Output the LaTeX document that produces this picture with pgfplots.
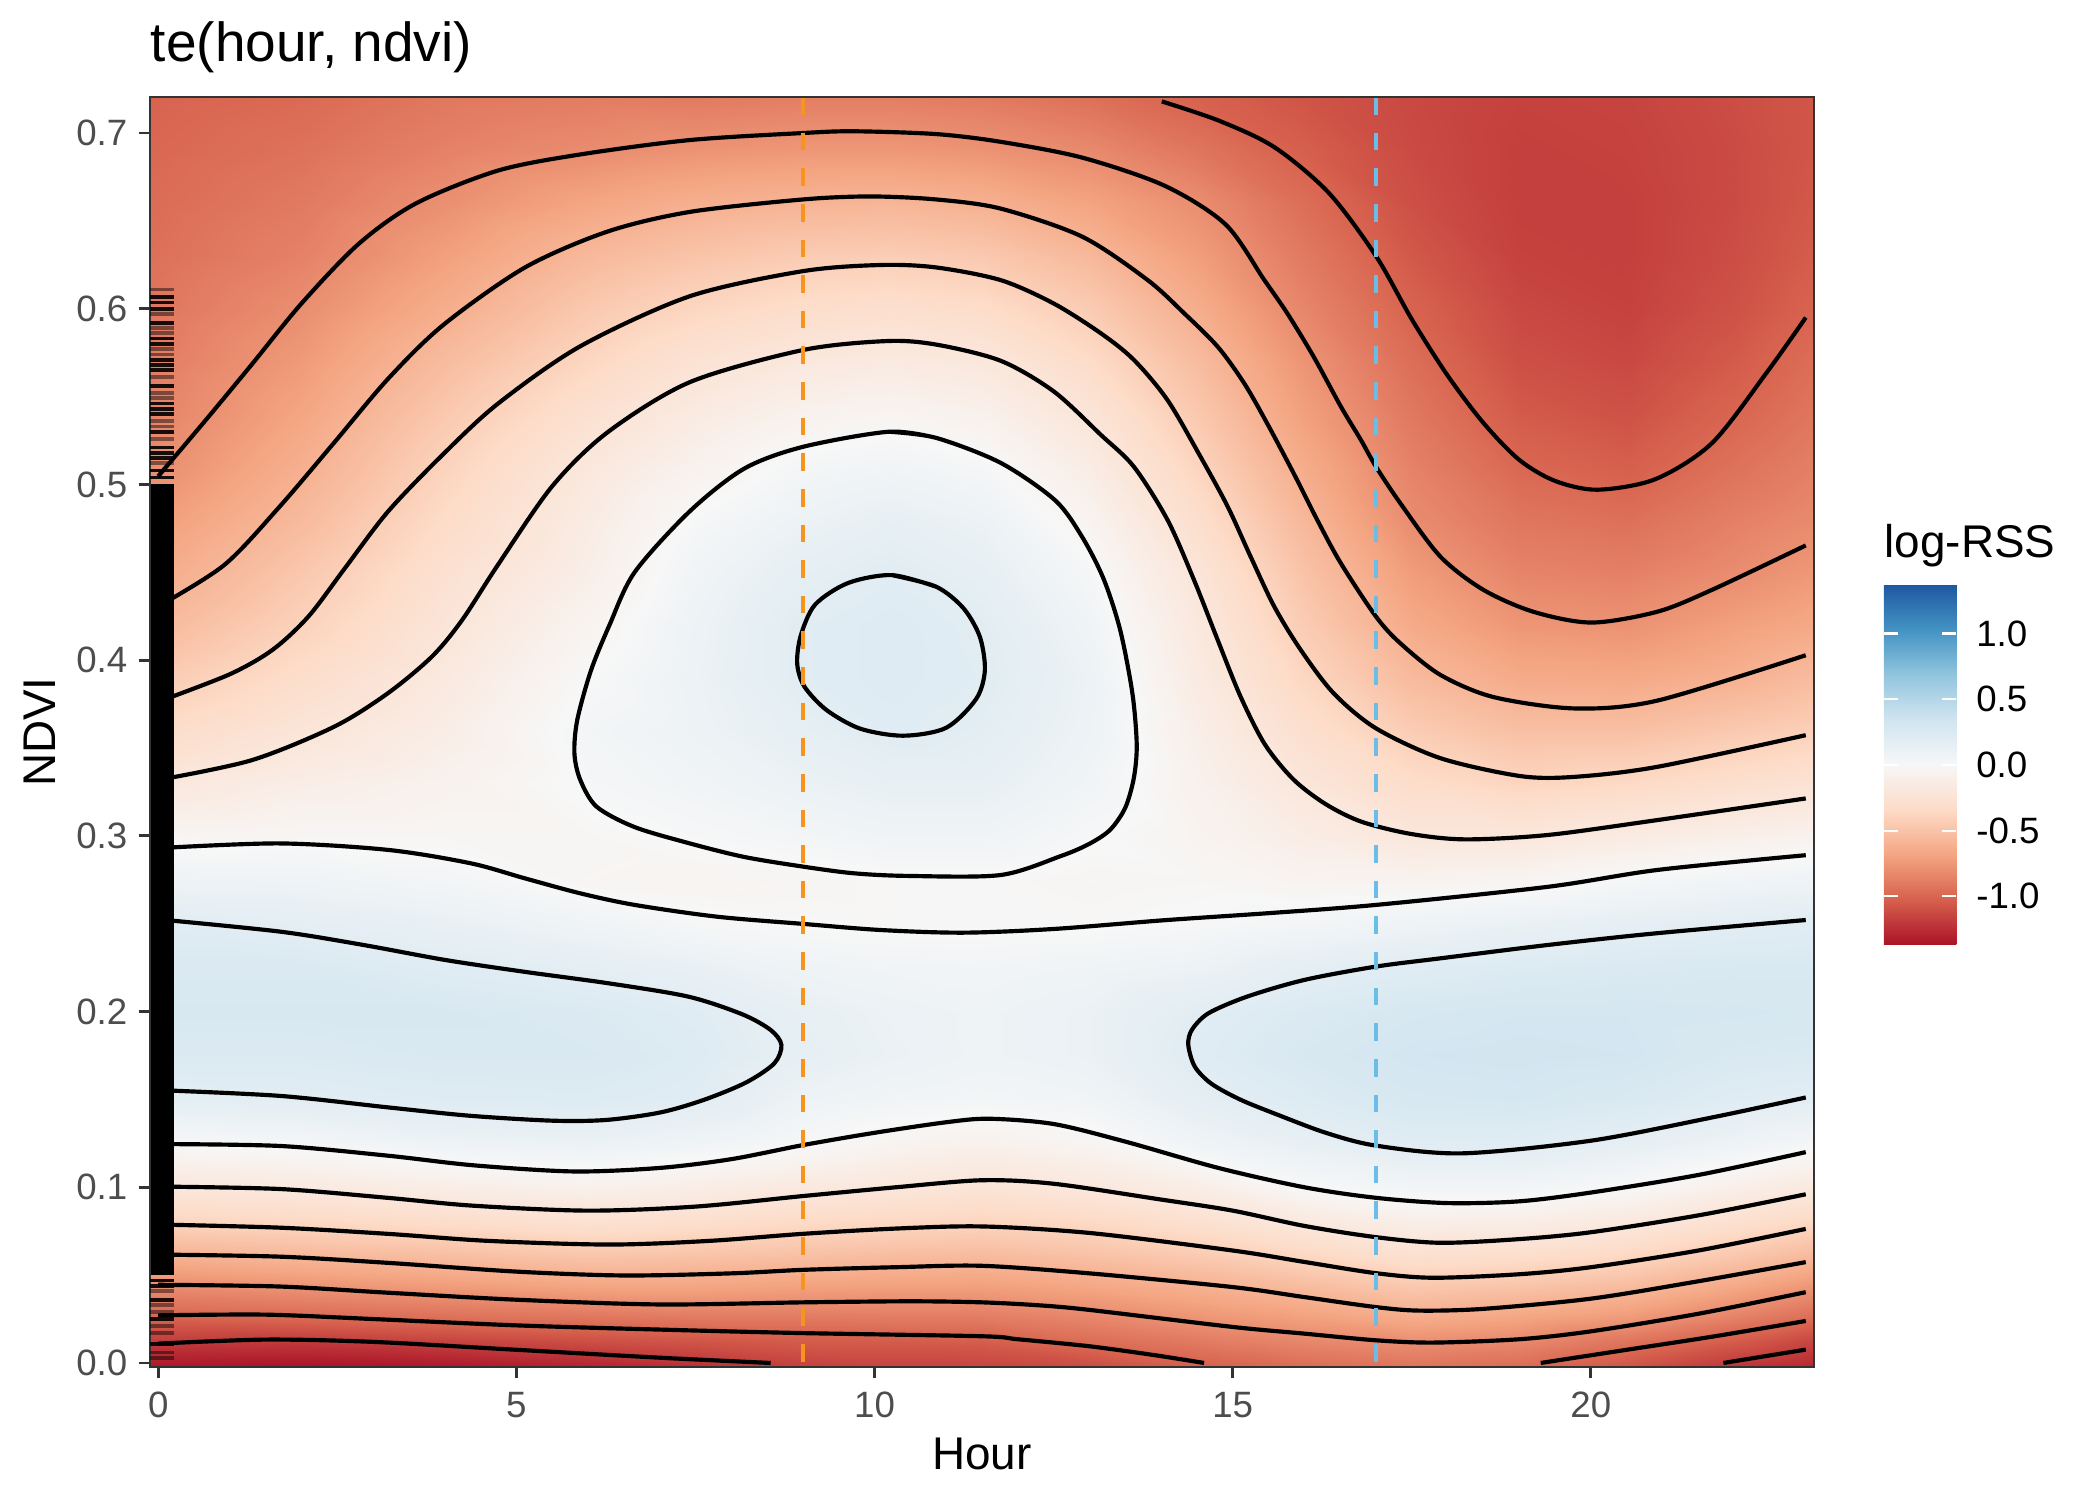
\documentclass[border=0pt]{standalone}
\usepackage{pgfplots}
\pgfplotsset{compat=1.18}
\usepackage{fontspec}
\setmainfont{Liberation Sans}
\definecolor{grey20}{HTML}{333333}
\definecolor{grey30}{HTML}{4D4D4D}
\definecolor{vorange}{RGB}{247,148,30}
\definecolor{vblue}{RGB}{105,189,230}
\pgfplotsset{
  colormap={rdbu}{rgb255(0cm)=(170,18,40); rgb255(1cm)=(214,96,77); rgb255(2cm)=(244,165,130); rgb255(3cm)=(253,219,199); rgb255(4cm)=(247,247,247); rgb255(5cm)=(209,229,240); rgb255(6cm)=(146,197,222); rgb255(7cm)=(67,147,195); rgb255(8cm)=(31,88,162)},
  cl/.style={black, line width=1.0pt, smooth},
}
\newcommand\tickfont{\fontsize{8.8}{10}\selectfont}
\begin{document}
\begin{tikzpicture}
\path[use as bounding box] (-36pt,-31.92pt) rectangle (468pt,328.08pt);
\begin{axis}[
  at={(0,0)}, anchor=south west,
  scale only axis, width=399.36pt, height=304.8pt,
  xmin=-0.115, xmax=23.115, ymin=-0.0023, ymax=0.7205,
  axis on top,
  colormap name=rdbu,
  point meta min=-1.37, point meta max=1.37,
  xtick={0,5,10,15,20}, xticklabels={0,5,10,15,20},
  ytick={0,0.1,0.2,0.3,0.4,0.5,0.6,0.7}, yticklabels={0.0,0.1,0.2,0.3,0.4,0.5,0.6,0.7},
  tick align=outside, tick pos=left,
  major tick length=2.75pt,
  every tick/.style={grey20, line width=0.7pt},
  axis line style={grey20, line width=0.5pt},
  every tick label/.style={font=\tickfont, text=grey30, inner sep=0pt},
  every y tick label/.style={xshift=-2.5pt},
  every x tick label/.style={yshift=-3pt},
  title={te(hour, ndvi)},
  every axis title/.style={at={(0,1)}, anchor=base west, yshift=8.5pt, font=\fontsize{13.2}{16}\selectfont, inner sep=0pt},
  xlabel={Hour}, ylabel={NDVI},
  every axis x label/.style={at={(axis description cs:0.5,0)}, anchor=base, yshift=-24.5pt, font=\fontsize{11}{13}\selectfont, inner sep=0pt},
  every axis y label/.style={at={([xshift=-22.6pt]axis description cs:0,0.5)}, rotate=90, anchor=base, font=\fontsize{11}{13}\selectfont, inner sep=0pt},
  colorbar,
  colorbar shift/.style={xshift=16.75pt, yshift=101.3pt},
  colorbar/width=17.4pt,
  every colorbar/.append style={ytick pos=both, yticklabel pos=right, width=17.4pt},
  colorbar style={
    at={(parent axis.south east)}, anchor=south west,
    scale only axis, width=17.4pt, height=86.4pt,
    xlabel={}, ylabel={},
    ytick={-1,-0.5,0,0.5,1}, yticklabels={-1.0,-0.5,0.0,0.5,1.0},
    yticklabel pos=right, ytick pos=both,
    tick align=inside, major tick length=3.4pt,
    every tick/.style={draw=white, line width=0.5pt},
    axis line style={draw=none},
    every tick label/.style={font=\tickfont, text=black, inner sep=0pt},
    every y tick label/.style={anchor=west, xshift=4.6pt},
    title={log-RSS},
    every axis title/.style={at={(0,1)}, anchor=base west, yshift=6.5pt, font=\fontsize{11}{13}\selectfont, inner sep=0pt},
  },
]
% ---------------- heat field (log-RSS) ----------------
\addplot[surf, shader=interp, mesh/cols=16, point meta=explicit]
table[row sep=\\, x=x, y=y, meta=z] {
x y z\\
-0.115 -0.0023 -1.35\\ 2 -0.0023 -1.37\\ 4 -0.0023 -1.35\\ 6 -0.0023 -1.30\\ 7.5 -0.0023 -1.24\\ 9 -0.0023 -1.17\\ 10.25 -0.0023 -1.15\\ 11.5 -0.0023 -1.15\\ 13 -0.0023 -1.12\\ 14.5 -0.0023 -1.03\\ 16 -0.0023 -0.97\\ 17.5 -0.0023 -0.93\\ 19 -0.0023 -0.97\\ 20.5 -0.0023 -1.08\\ 22 -0.0023 -1.21\\ 23.115 -0.0023 -1.28\\
-0.115 0.012 -1.19\\ 2 0.012 -1.20\\ 4 0.012 -1.16\\ 6 0.012 -1.11\\ 7.5 0.012 -1.08\\ 9 0.012 -1.05\\ 10.25 0.012 -1.05\\ 11.5 0.012 -1.04\\ 13 0.012 -0.97\\ 14.5 0.012 -0.90\\ 16 0.012 -0.84\\ 17.5 0.012 -0.80\\ 19 0.012 -0.83\\ 20.5 0.012 -0.93\\ 22 0.012 -1.05\\ 23.115 0.012 -1.15\\
-0.115 0.027 -1.00\\ 2 0.027 -0.97\\ 4 0.027 -0.94\\ 6 0.027 -0.91\\ 7.5 0.027 -0.89\\ 9 0.027 -0.89\\ 10.25 0.027 -0.88\\ 11.5 0.027 -0.88\\ 13 0.027 -0.83\\ 14.5 0.027 -0.76\\ 16 0.027 -0.70\\ 17.5 0.027 -0.63\\ 19 0.027 -0.67\\ 20.5 0.027 -0.73\\ 22 0.027 -0.85\\ 23.115 0.027 -0.96\\
-0.115 0.044 -0.81\\ 2 0.044 -0.77\\ 4 0.044 -0.73\\ 6 0.044 -0.68\\ 7.5 0.044 -0.68\\ 9 0.044 -0.70\\ 10.25 0.044 -0.71\\ 11.5 0.044 -0.71\\ 13 0.044 -0.67\\ 14.5 0.044 -0.61\\ 16 0.044 -0.54\\ 17.5 0.044 -0.46\\ 19 0.044 -0.49\\ 20.5 0.044 -0.54\\ 22 0.044 -0.66\\ 23.115 0.044 -0.76\\
-0.115 0.061 -0.61\\ 2 0.061 -0.57\\ 4 0.061 -0.53\\ 6 0.061 -0.48\\ 7.5 0.061 -0.50\\ 9 0.061 -0.52\\ 10.25 0.061 -0.54\\ 11.5 0.061 -0.55\\ 13 0.061 -0.51\\ 14.5 0.061 -0.45\\ 16 0.061 -0.37\\ 17.5 0.061 -0.28\\ 19 0.061 -0.31\\ 20.5 0.061 -0.36\\ 22 0.061 -0.47\\ 23.115 0.061 -0.56\\
-0.115 0.079 -0.40\\ 2 0.079 -0.37\\ 4 0.079 -0.33\\ 6 0.079 -0.28\\ 7.5 0.079 -0.31\\ 9 0.079 -0.35\\ 10.25 0.079 -0.37\\ 11.5 0.079 -0.39\\ 13 0.079 -0.36\\ 14.5 0.079 -0.29\\ 16 0.079 -0.19\\ 17.5 0.079 -0.12\\ 19 0.079 -0.13\\ 20.5 0.079 -0.19\\ 22 0.079 -0.29\\ 23.115 0.079 -0.37\\
-0.115 0.100 -0.20\\ 2 0.100 -0.17\\ 4 0.100 -0.12\\ 6 0.100 -0.08\\ 7.5 0.100 -0.12\\ 9 0.100 -0.17\\ 10.25 0.100 -0.20\\ 11.5 0.100 -0.23\\ 13 0.100 -0.19\\ 14.5 0.100 -0.12\\ 16 0.100 0.00\\ 17.5 0.100 0.05\\ 19 0.100 0.05\\ 20.5 0.100 0.00\\ 22 0.100 -0.10\\ 23.115 0.100 -0.17\\
-0.115 0.125 0.00\\ 2 0.125 0.03\\ 4 0.125 0.09\\ 6 0.125 0.11\\ 7.5 0.125 0.07\\ 9 0.125 0.01\\ 10.25 0.125 -0.05\\ 11.5 0.125 -0.08\\ 13 0.125 -0.04\\ 14.5 0.125 0.07\\ 16 0.125 0.14\\ 17.5 0.125 0.21\\ 19 0.125 0.21\\ 20.5 0.125 0.16\\ 22 0.125 0.09\\ 23.115 0.125 0.03\\
-0.115 0.150 0.17\\ 2 0.150 0.19\\ 4 0.150 0.22\\ 6 0.150 0.23\\ 7.5 0.150 0.20\\ 9 0.150 0.09\\ 10.25 0.150 0.06\\ 11.5 0.150 0.04\\ 13 0.150 0.06\\ 14.5 0.150 0.17\\ 16 0.150 0.23\\ 17.5 0.150 0.29\\ 19 0.150 0.30\\ 20.5 0.150 0.27\\ 22 0.150 0.21\\ 23.115 0.150 0.19\\
-0.115 0.175 0.25\\ 2 0.175 0.25\\ 4 0.175 0.27\\ 6 0.175 0.27\\ 7.5 0.175 0.23\\ 9 0.175 0.15\\ 10.25 0.175 0.11\\ 11.5 0.175 0.08\\ 13 0.175 0.11\\ 14.5 0.175 0.21\\ 16 0.175 0.28\\ 17.5 0.175 0.32\\ 19 0.175 0.33\\ 20.5 0.175 0.32\\ 22 0.175 0.27\\ 23.115 0.175 0.26\\
-0.115 0.200 0.28\\ 2 0.200 0.28\\ 4 0.200 0.28\\ 6 0.200 0.25\\ 7.5 0.200 0.21\\ 9 0.200 0.14\\ 10.25 0.200 0.10\\ 11.5 0.200 0.08\\ 13 0.200 0.11\\ 14.5 0.200 0.19\\ 16 0.200 0.25\\ 17.5 0.200 0.29\\ 19 0.200 0.31\\ 20.5 0.200 0.31\\ 22 0.200 0.30\\ 23.115 0.200 0.29\\
-0.115 0.225 0.26\\ 2 0.225 0.26\\ 4 0.225 0.21\\ 6 0.225 0.17\\ 7.5 0.225 0.13\\ 9 0.225 0.08\\ 10.25 0.225 0.06\\ 11.5 0.225 0.05\\ 13 0.225 0.07\\ 14.5 0.225 0.10\\ 16 0.225 0.17\\ 17.5 0.225 0.21\\ 19 0.225 0.24\\ 20.5 0.225 0.26\\ 22 0.225 0.27\\ 23.115 0.225 0.27\\
-0.115 0.250 0.21\\ 2 0.250 0.17\\ 4 0.250 0.13\\ 6 0.250 0.07\\ 7.5 0.250 0.02\\ 9 0.250 0.00\\ 10.25 0.250 -0.01\\ 11.5 0.250 -0.01\\ 13 0.250 -0.01\\ 14.5 0.250 0.01\\ 16 0.250 0.04\\ 17.5 0.250 0.08\\ 19 0.250 0.12\\ 20.5 0.250 0.16\\ 22 0.250 0.19\\ 23.115 0.250 0.21\\
-0.115 0.275 0.09\\ 2 0.275 0.08\\ 4 0.275 0.04\\ 6 0.275 -0.03\\ 7.5 0.275 -0.04\\ 9 0.275 -0.03\\ 10.25 0.275 -0.01\\ 11.5 0.275 -0.01\\ 13 0.275 -0.03\\ 14.5 0.275 -0.02\\ 16 0.275 -0.05\\ 17.5 0.275 -0.06\\ 19 0.275 -0.04\\ 20.5 0.275 0.02\\ 22 0.275 0.06\\ 23.115 0.275 0.08\\
-0.115 0.300 -0.04\\ 2 0.300 -0.02\\ 4 0.300 -0.02\\ 6 0.300 -0.02\\ 7.5 0.300 0.01\\ 9 0.300 0.04\\ 10.25 0.300 0.07\\ 11.5 0.300 0.07\\ 13 0.300 0.01\\ 14.5 0.300 -0.05\\ 16 0.300 -0.13\\ 17.5 0.300 -0.20\\ 19 0.300 -0.20\\ 20.5 0.300 -0.15\\ 22 0.300 -0.10\\ 23.115 0.300 -0.07\\
-0.115 0.330 -0.19\\ 2 0.330 -0.12\\ 4 0.330 -0.07\\ 6 0.330 0.02\\ 7.5 0.330 0.06\\ 9 0.330 0.11\\ 10.25 0.330 0.14\\ 11.5 0.330 0.14\\ 13 0.330 0.06\\ 14.5 0.330 -0.08\\ 16 0.330 -0.21\\ 17.5 0.330 -0.32\\ 19 0.330 -0.38\\ 20.5 0.330 -0.35\\ 22 0.330 -0.29\\ 23.115 0.330 -0.25\\
-0.115 0.360 -0.33\\ 2 0.360 -0.22\\ 4 0.360 -0.12\\ 6 0.360 0.04\\ 7.5 0.360 0.09\\ 9 0.360 0.16\\ 10.25 0.360 0.21\\ 11.5 0.360 0.18\\ 13 0.360 0.09\\ 14.5 0.360 -0.11\\ 16 0.360 -0.29\\ 17.5 0.360 -0.44\\ 19 0.360 -0.52\\ 20.5 0.360 -0.52\\ 22 0.360 -0.46\\ 23.115 0.360 -0.41\\
-0.115 0.390 -0.45\\ 2 0.390 -0.31\\ 4 0.390 -0.17\\ 6 0.390 0.00\\ 7.5 0.390 0.10\\ 9 0.390 0.20\\ 10.25 0.390 0.23\\ 11.5 0.390 0.20\\ 13 0.390 0.10\\ 14.5 0.390 -0.15\\ 16 0.390 -0.37\\ 17.5 0.390 -0.55\\ 19 0.390 -0.65\\ 20.5 0.390 -0.66\\ 22 0.390 -0.61\\ 23.115 0.390 -0.54\\
-0.115 0.420 -0.56\\ 2 0.420 -0.40\\ 4 0.420 -0.22\\ 6 0.420 -0.05\\ 7.5 0.420 0.09\\ 9 0.420 0.20\\ 10.25 0.420 0.23\\ 11.5 0.420 0.19\\ 13 0.420 0.07\\ 14.5 0.420 -0.18\\ 16 0.420 -0.44\\ 17.5 0.420 -0.65\\ 19 0.420 -0.76\\ 20.5 0.420 -0.78\\ 22 0.420 -0.71\\ 23.115 0.420 -0.66\\
-0.115 0.450 -0.65\\ 2 0.450 -0.47\\ 4 0.450 -0.27\\ 6 0.450 -0.11\\ 7.5 0.450 0.06\\ 9 0.450 0.16\\ 10.25 0.450 0.20\\ 11.5 0.450 0.15\\ 13 0.450 0.02\\ 14.5 0.450 -0.22\\ 16 0.450 -0.50\\ 17.5 0.450 -0.73\\ 19 0.450 -0.85\\ 20.5 0.450 -0.87\\ 22 0.450 -0.81\\ 23.115 0.450 -0.75\\
-0.115 0.480 -0.73\\ 2 0.480 -0.55\\ 4 0.480 -0.33\\ 6 0.480 -0.14\\ 7.5 0.480 0.01\\ 9 0.480 0.10\\ 10.25 0.480 0.14\\ 11.5 0.480 0.10\\ 13 0.480 -0.05\\ 14.5 0.480 -0.30\\ 16 0.480 -0.57\\ 17.5 0.480 -0.81\\ 19 0.480 -0.92\\ 20.5 0.480 -0.95\\ 22 0.480 -0.87\\ 23.115 0.480 -0.82\\
-0.115 0.510 -0.81\\ 2 0.510 -0.62\\ 4 0.510 -0.39\\ 6 0.510 -0.19\\ 7.5 0.510 -0.07\\ 9 0.510 0.03\\ 10.25 0.510 0.06\\ 11.5 0.510 0.02\\ 13 0.510 -0.13\\ 14.5 0.510 -0.38\\ 16 0.510 -0.64\\ 17.5 0.510 -0.86\\ 19 0.510 -0.99\\ 20.5 0.510 -1.03\\ 22 0.510 -0.94\\ 23.115 0.510 -0.87\\
-0.115 0.540 -0.86\\ 2 0.540 -0.68\\ 4 0.540 -0.46\\ 6 0.540 -0.27\\ 7.5 0.540 -0.15\\ 9 0.540 -0.07\\ 10.25 0.540 -0.04\\ 11.5 0.540 -0.08\\ 13 0.540 -0.22\\ 14.5 0.540 -0.46\\ 16 0.540 -0.71\\ 17.5 0.540 -0.91\\ 19 0.540 -1.05\\ 20.5 0.540 -1.09\\ 22 0.540 -1.00\\ 23.115 0.540 -0.92\\
-0.115 0.570 -0.89\\ 2 0.570 -0.74\\ 4 0.570 -0.54\\ 6 0.570 -0.37\\ 7.5 0.570 -0.25\\ 9 0.570 -0.18\\ 10.25 0.570 -0.16\\ 11.5 0.570 -0.19\\ 13 0.570 -0.33\\ 14.5 0.570 -0.54\\ 16 0.570 -0.77\\ 17.5 0.570 -0.96\\ 19 0.570 -1.10\\ 20.5 0.570 -1.13\\ 22 0.570 -1.05\\ 23.115 0.570 -0.96\\
-0.115 0.600 -0.92\\ 2 0.600 -0.80\\ 4 0.600 -0.63\\ 6 0.600 -0.46\\ 7.5 0.600 -0.37\\ 9 0.600 -0.31\\ 10.25 0.600 -0.29\\ 11.5 0.600 -0.32\\ 13 0.600 -0.44\\ 14.5 0.600 -0.63\\ 16 0.600 -0.84\\ 17.5 0.600 -1.01\\ 19 0.600 -1.13\\ 20.5 0.600 -1.16\\ 22 0.600 -1.09\\ 23.115 0.600 -1.01\\
-0.115 0.630 -0.95\\ 2 0.630 -0.86\\ 4 0.630 -0.71\\ 6 0.630 -0.56\\ 7.5 0.630 -0.49\\ 9 0.630 -0.44\\ 10.25 0.630 -0.43\\ 11.5 0.630 -0.46\\ 13 0.630 -0.56\\ 14.5 0.630 -0.72\\ 16 0.630 -0.90\\ 17.5 0.630 -1.06\\ 19 0.630 -1.16\\ 20.5 0.630 -1.17\\ 22 0.630 -1.11\\ 23.115 0.630 -1.04\\
-0.115 0.660 -0.97\\ 2 0.660 -0.90\\ 4 0.660 -0.79\\ 6 0.660 -0.68\\ 7.5 0.660 -0.62\\ 9 0.660 -0.59\\ 10.25 0.660 -0.58\\ 11.5 0.660 -0.61\\ 13 0.660 -0.69\\ 14.5 0.660 -0.80\\ 16 0.660 -0.96\\ 17.5 0.660 -1.10\\ 19 0.660 -1.17\\ 20.5 0.660 -1.17\\ 22 0.660 -1.12\\ 23.115 0.660 -1.06\\
-0.115 0.690 -0.99\\ 2 0.690 -0.94\\ 4 0.690 -0.86\\ 6 0.690 -0.81\\ 7.5 0.690 -0.77\\ 9 0.690 -0.75\\ 10.25 0.690 -0.75\\ 11.5 0.690 -0.77\\ 13 0.690 -0.82\\ 14.5 0.690 -0.92\\ 16 0.690 -1.03\\ 17.5 0.690 -1.12\\ 19 0.690 -1.17\\ 20.5 0.690 -1.16\\ 22 0.690 -1.12\\ 23.115 0.690 -1.07\\
-0.115 0.7205 -1.01\\ 2 0.7205 -0.98\\ 4 0.7205 -0.91\\ 6 0.7205 -0.89\\ 7.5 0.7205 -0.90\\ 9 0.7205 -0.88\\ 10.25 0.7205 -0.88\\ 11.5 0.7205 -0.90\\ 13 0.7205 -0.95\\ 14.5 0.7205 -1.02\\ 16 0.7205 -1.08\\ 17.5 0.7205 -1.13\\ 19 0.7205 -1.16\\ 20.5 0.7205 -1.15\\ 22 0.7205 -1.11\\ 23.115 0.7205 -1.07\\
};
% ---------------- rug of observations at hour 0 ----------------
\addplot[fill=black, draw=none] coordinates {(-0.115,0.05) (0.215,0.05) (0.215,0.50) (-0.115,0.50)} -- cycle;
\addplot[only marks, mark=-, mark size=2.84pt, mark options={line width=0.9pt, draw=black, opacity=0.9}] coordinates {
(0.05,0.6065) (0.05,0.6035) (0.05,0.600) (0.05,0.592) (0.05,0.583) (0.05,0.580) (0.05,0.571) (0.05,0.568) (0.05,0.565) (0.05,0.556) (0.05,0.546) (0.05,0.543) (0.05,0.540) (0.05,0.530) (0.05,0.521) (0.05,0.518) (0.05,0.515) (0.05,0.508) (0.05,0.504)
(0.05,0.047) (0.05,0.044) (0.05,0.036) (0.05,0.025) (0.05,0.011)};
\addplot[only marks, mark=-, mark size=2.84pt, mark options={line width=0.9pt, draw=black, opacity=0.45}] coordinates {
(0.05,0.611) (0.05,0.597) (0.05,0.589) (0.05,0.586) (0.05,0.577) (0.05,0.574) (0.05,0.561) (0.05,0.552) (0.05,0.549) (0.05,0.536) (0.05,0.533) (0.05,0.526) (0.05,0.512)
(0.05,0.041) (0.05,0.033) (0.05,0.029) (0.05,0.021) (0.05,0.017) (0.05,0.006) (0.05,0.003)};
% ---------------- contour lines ----------------
% +0.2 : left band
\addplot[cl] coordinates {(0,0.2525) (1.7,0.2455) (2.85,0.238) (4,0.2294) (5.1,0.2227) (6.3,0.216) (7.4,0.2085) (8.15,0.1985) (8.55,0.1895) (8.7,0.181) (8.6,0.1705) (8.2,0.1595) (7.6,0.1495) (7.0,0.1425) (6.25,0.1383) (5.5,0.1379) (4.35,0.1407) (3.2,0.1455) (1.7,0.152) (0,0.1553)};
% +0.2 : right band
\addplot[cl] coordinates {(23,0.2521) (20.9,0.2445) (19.4,0.2379) (17.9,0.2303) (17,0.2256) (16,0.218) (15.2,0.2085) (14.66,0.199) (14.43,0.1896) (14.38,0.181) (14.47,0.1687) (14.7,0.159) (15.1,0.150) (15.6,0.1417) (16.3,0.131) (17,0.1237) (18.2,0.1193) (20,0.1265) (21.7,0.1398) (23,0.1511)};
% +0.2 : inner loop
\addplot[cl] coordinates {(10.24,0.4484) (10.86,0.4418) (11.24,0.4296) (11.47,0.4133) (11.54,0.3943) (11.42,0.378) (11.0,0.3615) (10.4,0.357) (9.8,0.361) (9.33,0.3716) (9.02,0.385) (8.92,0.398) (8.97,0.414) (9.17,0.4316) (9.63,0.4439) (10.24,0.4484) (10.86,0.4418)};
% 0 : oval
\addplot[cl] coordinates {(10.2,0.53) (10.86,0.5265) (11.76,0.5123) (12.52,0.491) (12.9,0.470) (13.2,0.446) (13.43,0.417) (13.6,0.381) (13.66,0.352) (13.62,0.333) (13.5,0.316) (13.29,0.3035) (13.0,0.2955) (12.6,0.2885) (11.76,0.2777) (10.47,0.2772) (9.71,0.2787) (9.0,0.2825) (8.18,0.288) (7.42,0.2957) (6.65,0.305) (6.12,0.3166) (5.89,0.332) (5.81,0.347) (5.85,0.366) (6.04,0.394) (6.3,0.42) (6.65,0.45) (7.42,0.4847) (8.18,0.509) (9.0,0.5214) (10.2,0.53) (10.86,0.5265)};
% 0 : long line
\addplot[cl] coordinates {(0,0.293) (1.68,0.2957) (3.21,0.292) (4.36,0.2844) (5.12,0.2758) (5.89,0.2673) (6.65,0.2607) (7.8,0.254) (9,0.2499) (10.09,0.2464) (11.24,0.2449) (12.5,0.247) (14.05,0.252) (15.5,0.256) (17,0.2607) (19.4,0.271) (20.93,0.2806) (23,0.289)};
% -0.2
\addplot[cl] coordinates {(0,0.3318) (1.3,0.343) (2.45,0.362) (3.2,0.381) (3.82,0.402) (4.24,0.4227) (4.74,0.4541) (5.5,0.499) (6.27,0.5296) (7.42,0.5582) (9,0.5765) (10.17,0.5816) (10.86,0.5796) (11.76,0.5704) (12.5,0.553) (13.16,0.5282) (13.62,0.5101) (14.09,0.4798) (14.46,0.4456) (14.79,0.4115) (15.11,0.3792) (15.45,0.352) (15.85,0.332) (16.3,0.318) (16.8,0.308) (17.5,0.301) (18.25,0.298) (19.4,0.3005) (20.93,0.309) (23,0.3213)};
% -0.4
\addplot[cl] coordinates {(0,0.3763) (1.0,0.392) (1.6,0.406) (2.1,0.425) (2.6,0.452) (3.21,0.4847) (3.98,0.5173) (4.74,0.5459) (5.89,0.5786) (7.42,0.6071) (9,0.6214) (10.09,0.6249) (10.86,0.6235) (11.76,0.6163) (12.5,0.603) (13.16,0.586) (13.62,0.5709) (14.09,0.548) (14.55,0.5158) (14.93,0.4874) (15.25,0.4589) (15.58,0.4305) (15.95,0.4058) (16.41,0.3811) (17,0.3612) (17.9,0.3442) (19.02,0.334) (19.78,0.3336) (20.93,0.3393) (23,0.3573)};
% -0.6
\addplot[cl] coordinates {(0,0.4306) (0.92,0.4541) (1.68,0.4867) (2.45,0.5235) (3.21,0.5602) (3.98,0.5908) (5.12,0.6235) (6.27,0.6439) (7.42,0.6551) (9,0.6622) (9.94,0.6639) (10.86,0.6622) (11.76,0.657) (12.9,0.641) (13.81,0.6164) (14.32,0.5975) (14.79,0.5784) (15.16,0.5576) (15.48,0.5348) (15.85,0.5064) (16.18,0.4798) (16.51,0.4551) (17,0.4248) (17.34,0.4096) (17.9,0.3916) (18.64,0.379) (19.78,0.3725) (20.93,0.377) (23,0.4028)};
% -0.8
\addplot[cl] coordinates {(0,0.5047) (0.65,0.536) (1.3,0.568) (2.0,0.603) (2.8,0.637) (3.6,0.66) (4.74,0.6786) (5.89,0.6878) (7.42,0.696) (9,0.700) (9.71,0.701) (10.86,0.6994) (11.76,0.695) (12.9,0.686) (14.05,0.670) (14.9,0.648) (15.44,0.6164) (15.76,0.5975) (16.13,0.5727) (16.51,0.5443) (16.79,0.5253) (17,0.5101) (17.34,0.4893) (17.9,0.4589) (18.5,0.440) (19.2,0.4275) (20.01,0.4214) (20.93,0.4276) (21.69,0.440) (23,0.4653)};
% -1.0 (top right)
\addplot[cl] coordinates {(14.01,0.718) (14.81,0.707) (15.58,0.692) (16.34,0.666) (17.0,0.630) (17.5,0.594) (18.0,0.562) (18.5,0.535) (19.0,0.514) (19.5,0.502) (20.09,0.497) (20.9,0.503) (21.69,0.5235) (22.46,0.564) (23,0.595)};
% bottom family
\addplot[cl] coordinates {(0,0.1246) (1.7,0.1235) (3.2,0.118) (4.4,0.1125) (5.8,0.109) (7,0.111) (8,0.116) (9,0.124) (10,0.131) (11,0.137) (11.6,0.139) (12.5,0.136) (13.5,0.126) (14.8,0.111) (16,0.1) (17,0.094) (18,0.091) (19,0.092) (20,0.097) (21.5,0.107) (23,0.12)};
\addplot[cl] coordinates {(0,0.1004) (1.7,0.099) (3.2,0.094) (4.4,0.0895) (6,0.0867) (7.5,0.089) (9,0.095) (10.3,0.1) (11.5,0.104) (12.5,0.102) (14,0.093) (15,0.0867) (16,0.078) (17,0.0716) (17.9,0.0684) (19,0.0705) (20,0.0744) (21.5,0.084) (23,0.096)};
\addplot[cl] coordinates {(0,0.0788) (1.7,0.077) (3.2,0.0735) (4.6,0.0695) (6.3,0.0674) (7.7,0.0695) (9,0.0735) (10.3,0.0765) (11.5,0.0777) (13,0.074) (15,0.064) (16,0.0575) (17,0.0511) (17.8,0.0485) (19,0.0505) (20,0.0545) (21.5,0.064) (23,0.0763)};
\addplot[cl] coordinates {(0,0.0617) (1.7,0.0605) (3.2,0.057) (5,0.052) (6.5,0.0498) (8,0.051) (9,0.053) (10.3,0.0545) (11.5,0.0553) (13,0.051) (15,0.0432) (16,0.0375) (17,0.0318) (17.6,0.0298) (18.5,0.0308) (20,0.0366) (21.5,0.0465) (23,0.0574)};
\addplot[cl] coordinates {(0,0.0445) (1.7,0.0435) (3.2,0.040) (5,0.036) (7,0.0333) (9,0.0345) (10.5,0.0351) (11.5,0.0345) (12.3,0.0328) (13,0.0302) (15,0.0205) (16,0.0167) (17,0.0129) (17.8,0.0116) (19,0.0135) (20,0.018) (21.5,0.028) (23,0.0403)};
\addplot[cl] coordinates {(0,0.0271) (1.5,0.0275) (3,0.025) (5,0.0214) (7,0.019) (9,0.017) (11.5,0.0152) (12,0.0135) (13,0.0095) (13.9,0.0045) (14.6,0.0)};
\addplot[cl] coordinates {(19.3,0.0) (20.5,0.0075) (21.7,0.015) (23,0.0239)};
\addplot[cl] coordinates {(0,0.011) (1.5,0.0133) (3,0.012) (5,0.0075) (7,0.003) (8.55,0.0)};
\addplot[cl] coordinates {(21.85,0.0) (23,0.0076)};
% ---------------- reference hours ----------------
\addplot[vorange, line width=1.05pt, dash pattern=on 4.25pt off 4.3pt] coordinates {(9,0.7205) (9,-0.0023)};
\addplot[vblue, line width=1.05pt, dash pattern=on 4.25pt off 4.3pt] coordinates {(17,0.7205) (17,-0.0023)};
\end{axis}
\end{tikzpicture}
\end{document}
